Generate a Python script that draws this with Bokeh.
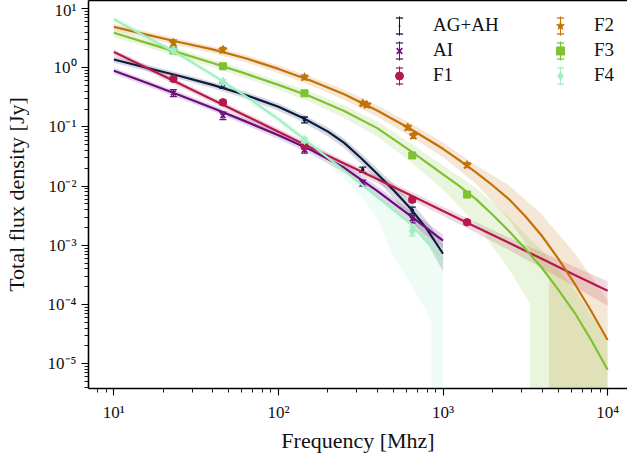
import math
from bokeh.plotting import figure
from bokeh.models import (Range1d, FixedTicker, CustomJSTickFormatter, LogAxis,
                          Legend, LegendItem)
from bokeh.embed import file_html
from bokeh.resources import INLINE

# ---------------- data ----------------
x_major_ticks = [10, 100, 1000, 10000]
y_major_ticks = [1e-5, 1e-4, 1e-3, 1e-2, 1e-1, 1e0, 1e1]

series_names = ["AG+AH", "AI", "F1", "F2", "F3", "F4"]
series_colors = ["#0b1b3f", "#6b0d7d", "#b4194b", "#c47208", "#7fc130", "#9ff0c2"]
series_markers = ["dot", "x", "circle", "star", "square", "diamond"]
series_marker_sizes = [15, 7, 7.5, 9, 7, 9]

# measured flux densities [Jy] with errors
agah_freq = [46, 144, 325, 650]
agah_flux = [0.50, 0.132, 0.019, 0.0039]
agah_err = [0.05, 0.015, 0.002, 0.0005]

ai_freq = [23, 46, 144, 325, 650]
ai_flux = [0.375, 0.155, 0.041, 0.0113, 0.0028]
ai_err = [0.05, 0.022, 0.005, 0.0013, 0.0004]

f1_freq = [23, 46, 144, 650, 1400]
f1_flux = [0.65, 0.26, 0.047, 0.0059, 0.00245]
f1_err = [0.06, 0.025, 0.005, 0.0006, 0.0002]

f2_freq = [23, 46, 144, 325, 345, 610, 660, 1400]
f2_flux = [2.65, 2.0, 0.69, 0.25, 0.235, 0.098, 0.071, 0.0227]
f2_err = [0.3, 0.2, 0.06, 0.02, 0.02, 0.009, 0.007, 0.0022]

f3_freq = [23, 46, 144, 650, 1400]
f3_flux = [1.95, 1.06, 0.37, 0.033, 0.0072]
f3_err = [0.15, 0.08, 0.03, 0.003, 0.0006]

f4_freq = [23, 46, 144, 650]
f4_flux = [1.96, 0.58, 0.060, 0.00174]
f4_err = [0.15, 0.05, 0.006, 0.0003]

# fitted spectra and their confidence bands
agah_fit_freq = [10, 15.8, 25.1, 39.8, 63.1, 100, 141, 200, 251, 316, 398, 501, 631, 794, 1000]
agah_fit = [1.38, 1.0, 0.724, 0.513, 0.347, 0.219, 0.141, 0.0832, 0.0537, 0.0302, 0.0162,
            0.00851, 0.00427, 0.00191, 0.00072]
agah_fit_hi = [1.55, 1.12, 0.811, 0.575, 0.392, 0.25, 0.162, 0.0973, 0.0634, 0.0362, 0.0199,
               0.0108, 0.00564, 0.00264, 0.00104]
agah_fit_lo = [1.21, 0.88, 0.637, 0.451, 0.302, 0.188, 0.12, 0.0691, 0.044, 0.0242, 0.0125,
               0.00621, 0.0029, 0.00115, 0.00036]

ai_fit_freq = [10, 15.8, 25.1, 39.8, 63.1, 100, 158, 251, 398, 631, 1000]
ai_fit = [0.891, 0.556, 0.343, 0.209, 0.124, 0.0724, 0.0407, 0.0204, 0.00832, 0.00316, 0.0012]
ai_fit_hi = [0.998, 0.623, 0.384, 0.234, 0.14, 0.0825, 0.0468, 0.0239, 0.00998, 0.00389, 0.00151]
ai_fit_lo = [0.784, 0.489, 0.302, 0.184, 0.108, 0.0623, 0.0346, 0.0169, 0.00666, 0.00243, 0.00089]

f1_fit_freq = [10, 15.8, 25.1, 39.8, 63.1, 100, 158, 251, 398, 631, 1000, 1585, 2512, 3981, 6310, 10000]
f1_fit = [1.84, 1.0, 0.537, 0.288, 0.155, 0.0832, 0.0447, 0.024, 0.0132, 0.00708, 0.0038,
          0.00204, 0.0011, 0.00059, 0.000316, 0.00017]
f1_fit_hi = [2.06, 1.12, 0.601, 0.323, 0.174, 0.094, 0.0505, 0.0274, 0.0152, 0.00821, 0.00448,
             0.00245, 0.00136, 0.000767, 0.000433, 0.000247]
f1_fit_lo = [1.62, 0.88, 0.473, 0.253, 0.136, 0.0724, 0.0389, 0.0206, 0.0112, 0.00595, 0.00312,
             0.00163, 0.000836, 0.000413, 0.000199, 0.0000952]

f2_fit_freq = [10, 15.8, 25.1, 39.8, 63.1, 100, 158, 251, 398, 631, 1000, 1259, 1585, 1995,
               2512, 3162, 3981, 5012, 6310, 7943, 10000]
f2_fit = [4.9, 3.63, 2.69, 2.04, 1.445, 0.955, 0.603, 0.355, 0.19, 0.0933, 0.0427, 0.0272,
          0.017, 0.01035, 0.00603, 0.00309, 0.00145, 0.000596, 0.000224, 0.0000776, 0.0000251]
f2_band_freq = [10, 15.8, 25.1, 39.8, 63.1, 100, 158, 251, 398, 631, 1000, 1585, 2512, 3981,
                4400, 4470, 6310, 10000]
f2_band_hi = [5.54, 4.1, 3.04, 2.31, 1.65, 1.1, 0.705, 0.426, 0.232, 0.117, 0.0547, 0.0226,
              0.0103, 0.00334, 0.00233, 0.00226, 0.00074, 0.00012]
f2_band_lo = [4.26, 3.16, 2.34, 1.77, 1.24, 0.81, 0.5, 0.284, 0.148, 0.07, 0.0307, 0.011,
              0.0027, 0.00044, 0.00027, 1e-30, 1e-30, 1e-30]

f3_fit_freq = [10, 15.8, 25.1, 39.8, 63.1, 100, 158, 251, 398, 631, 1000, 1259, 1585, 1995,
               2512, 3162, 3981, 5012, 6310, 7943, 10000]
f3_fit = [3.89, 2.63, 1.78, 1.2, 0.794, 0.513, 0.324, 0.186, 0.0955, 0.0398, 0.0158, 0.01,
          0.00603, 0.00331, 0.00174, 0.000871, 0.000417, 0.000178, 0.0000724, 0.0000251, 0.0000079]
f3_band_freq = [10, 15.8, 25.1, 39.8, 63.1, 100, 158, 251, 398, 631, 1000, 1585, 2512, 3370,
                3400, 3981, 6310, 10000]
f3_band_hi = [4.47, 3.02, 2.05, 1.38, 0.92, 0.6, 0.389, 0.233, 0.124, 0.0537, 0.0224, 0.00935,
              0.00305, 0.00128, 0.00124, 0.00083, 0.00018, 0.0000237]
f3_band_lo = [3.31, 2.24, 1.51, 1.02, 0.667, 0.426, 0.259, 0.141, 0.0688, 0.0263, 0.0087,
              0.00229, 0.0004, 0.000104, 1e-30, 1e-30, 1e-30, 1e-30]

f4_fit_freq = [10, 15.8, 25.1, 39.8, 63.1, 100, 158, 251, 398, 631, 1000]
f4_fit = [6.61, 3.31, 1.66, 0.759, 0.331, 0.135, 0.0501, 0.0182, 0.0066, 0.00234, 0.00057]
f4_band_freq = [10, 15.8, 25.1, 39.8, 63.1, 100, 158, 251, 316, 398, 501, 631, 794, 850, 860, 1000]
f4_band_hi = [7.4, 3.71, 1.86, 0.85, 0.374, 0.155, 0.0591, 0.0228, 0.0142, 0.0089, 0.0058,
              0.0035, 0.00184, 0.0015, 0.0015, 0.00097]
f4_band_lo = [5.82, 2.91, 1.46, 0.668, 0.288, 0.117, 0.043, 0.0135, 0.0068, 0.0028, 0.00064,
              0.000234, 0.0000748, 0.0000502, 1e-30, 1e-30]

points = [(agah_freq, agah_flux, agah_err), (ai_freq, ai_flux, ai_err),
          (f1_freq, f1_flux, f1_err), (f2_freq, f2_flux, f2_err),
          (f3_freq, f3_flux, f3_err), (f4_freq, f4_flux, f4_err)]
fits = [(agah_fit_freq, agah_fit), (ai_fit_freq, ai_fit), (f1_fit_freq, f1_fit),
        (f2_fit_freq, f2_fit), (f3_fit_freq, f3_fit), (f4_fit_freq, f4_fit)]
bands = [(agah_fit_freq, agah_fit_lo, agah_fit_hi), (ai_fit_freq, ai_fit_lo, ai_fit_hi),
         (f1_fit_freq, f1_fit_lo, f1_fit_hi), (f2_band_freq, f2_band_lo, f2_band_hi),
         (f3_band_freq, f3_band_lo, f3_band_hi), (f4_band_freq, f4_band_lo, f4_band_hi)]

# ---------------- figure ----------------
FONT = "Liberation Serif"
PX_PER_DEC_Y = 58.88
p = figure(width=627, height=459, x_axis_type="log", y_axis_type="log",
           x_range=Range1d(10 ** 0.8459, 10 ** 4.1208),
           y_range=Range1d(10 ** -5.4195, 10 ** (1 + 8 / PX_PER_DEC_Y)),
           output_backend="svg", toolbar_location=None,
           min_border_left=85, min_border_right=0, min_border_top=0, min_border_bottom=71)
p.outline_line_color = None
p.grid.visible = False

sup_code = """
const sup = {"-": "\\u207b", "0": "\\u2070", "1": "\\u00b9", "2": "\\u00b2", "3": "\\u00b3",
             "4": "\\u2074", "5": "\\u2075", "6": "\\u2076", "7": "\\u2077", "8": "\\u2078", "9": "\\u2079"};
const e = Math.round(Math.log10(tick));
let s = "";
for (const c of String(e)) { s += sup[c]; }
return "10" + s;
"""

x_minor = [m * 10 ** k for k in range(0, 5) for m in range(2, 10)]
y_minor = [m * 10 ** k for k in range(-6, 2) for m in range(2, 10)]
p.xaxis.ticker = FixedTicker(ticks=x_major_ticks, minor_ticks=x_minor)
p.yaxis.ticker = FixedTicker(ticks=y_major_ticks, minor_ticks=y_minor)
for ax in (p.xaxis[0], p.yaxis[0]):
    ax.formatter = CustomJSTickFormatter(code=sup_code)
    ax.axis_line_width = 1.6
    ax.major_tick_line_width = 1.1
    ax.minor_tick_line_width = 0.9
    ax.major_tick_out = 7
    ax.major_tick_in = 0
    ax.minor_tick_out = 4
    ax.minor_tick_in = 0
    ax.major_label_text_font = FONT
    ax.major_label_text_font_size = "17px"
    ax.major_label_text_color = "#111111"
    ax.axis_label_text_font = FONT
    ax.axis_label_text_font_size = "22px"
    ax.axis_label_text_font_style = "normal"
    ax.axis_label_text_color = "#111111"
p.xaxis.axis_label = "Frequency [Mhz]"
p.yaxis.axis_label = "Total flux density [Jy]"
p.xaxis.major_label_standoff = 7
p.xaxis.axis_label_standoff = 3
p.yaxis.major_label_standoff = 5
p.yaxis.axis_label_standoff = 16

top_axis = LogAxis(ticker=FixedTicker(ticks=[]), major_label_text_font_size="0px",
                   major_tick_out=0, major_tick_in=0, minor_tick_out=0, minor_tick_in=0,
                   axis_line_width=1.6, major_label_standoff=0)
p.add_layout(top_axis, "above")

# confidence bands
for (bf, blo, bhi), c in zip(bands, series_colors):
    p.varea(x=bf, y1=blo, y2=bhi, fill_color=c, fill_alpha=0.17)

bar_r, capt_r, capb_r, mark_r = [], [], [], []
for i, ((ff, fv), (px, py, pe), c) in enumerate(zip(fits, points, series_colors)):
    p.line(ff, fv, line_color=c, line_width=2.2)
    lo = [v - e for v, e in zip(py, pe)]
    hi = [v + e for v, e in zip(py, pe)]
    bar_r.append(p.vbar(x=px, bottom=lo, top=hi, width=0, fill_color=None,
                        line_color=c, line_width=1.3))
    capt_r.append(p.scatter(x=px, y=hi, marker="dash", size=7, line_color=c, line_width=1.3))
    capb_r.append(p.scatter(x=px, y=lo, marker="dash", size=7, line_color=c, line_width=1.3))
    m = series_markers[i]
    if m == "x":
        mark_r.append(p.scatter(x=px, y=py, marker=m, size=series_marker_sizes[i],
                                line_color=c, line_width=1.6))
    else:
        mark_r.append(p.scatter(x=px, y=py, marker=m, size=series_marker_sizes[i],
                                fill_color=c, line_color=c))

# legends: two columns, layered to mimic error-bar handles
def legend_column(idx, x0, y0):
    common = dict(orientation="vertical", border_line_color=None, background_fill_alpha=0,
                  padding=0, margin=0, spacing=2, label_text_font=FONT,
                  label_text_font_size="19px", glyph_height=23, label_text_color="#111111")
    layers = [
        Legend(items=[LegendItem(label=" ", renderers=[bar_r[i]]) for i in idx],
               location=(x0 + 9.5, y0), glyph_width=1, **common),
        Legend(items=[LegendItem(label=" ", renderers=[capt_r[i]]) for i in idx],
               location=(x0 + 1, y0 + 8), glyph_width=18, **common),
        Legend(items=[LegendItem(label=" ", renderers=[capb_r[i]]) for i in idx],
               location=(x0 + 1, y0 - 8), glyph_width=18, **common),
        Legend(items=[LegendItem(label=series_names[i], renderers=[mark_r[i]]) for i in idx],
               location=(x0, y0), glyph_width=20, label_standoff=24, **common),
    ]
    for lg in layers:
        p.add_layout(lg)

legend_column([0, 1, 2], 301, 301.5)
legend_column([3, 4, 5], 462, 301.5)

open("out.html", "w").write(file_html(p, INLINE))
